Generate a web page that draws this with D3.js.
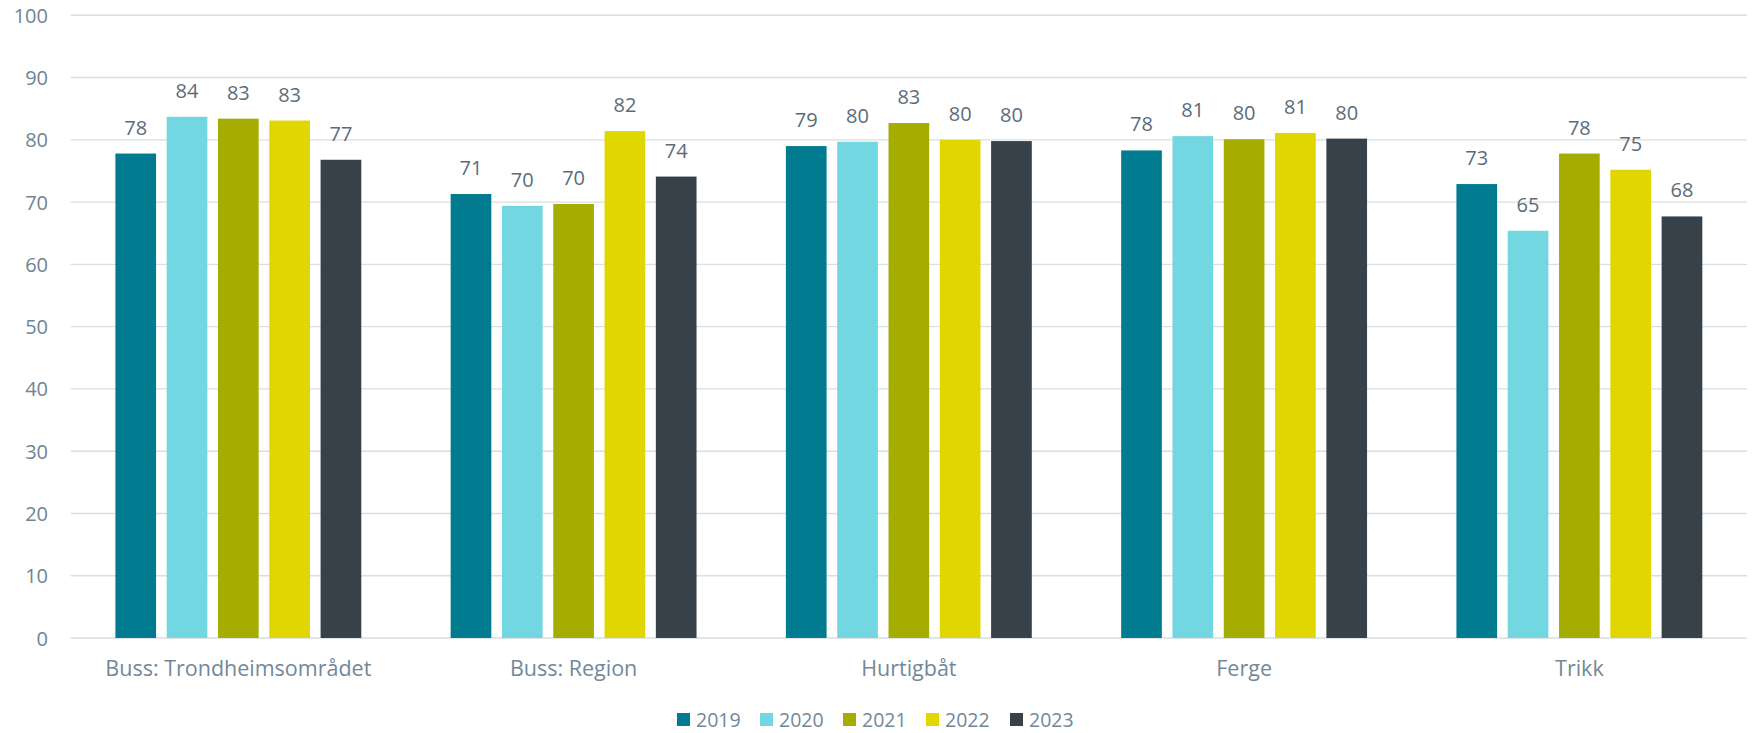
<!DOCTYPE html>
<html>
<head>
<meta charset="utf-8">
<script src="https://cdn.jsdelivr.net/npm/d3@7"></script>
<style>
  html, body { margin: 0; padding: 0; background: #fff; }
  svg text { font-family: "Open Sans", "Noto Sans", sans-serif; }
</style>
</head>
<body>
<svg id="chart" width="1752" height="733"></svg>
<script>
const categories = ["Buss: Trondheimsområdet", "Buss: Region", "Hurtigbåt", "Ferge", "Trikk"];
const years = ["2019", "2020", "2021", "2022", "2023"];
const v2019 = [77.8, 71.3, 79.0, 78.3, 72.9];
const v2020 = [83.7, 69.4, 79.7, 80.6, 65.4];
const v2021 = [83.4, 69.7, 82.7, 80.1, 77.8];
const v2022 = [83.1, 81.4, 80.0, 81.1, 75.2];
const v2023 = [76.8, 74.1, 79.8, 80.2, 67.7];
const labels2019 = ["78", "71", "79", "78", "73"];
const labels2020 = ["84", "70", "80", "81", "65"];
const labels2021 = ["83", "70", "83", "80", "78"];
const labels2022 = ["83", "82", "80", "81", "75"];
const labels2023 = ["77", "74", "80", "80", "68"];
const yTicks = [0, 10, 20, 30, 40, 50, 60, 70, 80, 90, 100];
const colors = ["#007B8F", "#72D7E0", "#A5AE00", "#E1D700", "#36414A"];

const seriesValues = [v2019, v2020, v2021, v2022, v2023];
const seriesLabels = [labels2019, labels2020, labels2021, labels2022, labels2023];

const svg = d3.select("#chart");
const mLeft = 70.7, mRight = 1747, mTop = 15.3, mBottom = 638;

const y = d3.scaleLinear().domain([0, 100]).range([mBottom, mTop]);
const x0 = d3.scaleBand().domain(categories).range([mLeft, mRight]).padding(0);
const x1 = d3.scaleBand().domain(years).range([0, x0.bandwidth()])
  .paddingInner(0.207).paddingOuter(0.871);

// gridlines
svg.append("g").selectAll("line").data(yTicks).join("line")
  .attr("x1", mLeft).attr("x2", mRight)
  .attr("y1", d => y(d)).attr("y2", d => y(d))
  .attr("stroke", "#D9DEE2").attr("stroke-width", 1.4);

// y axis labels
const yAxis = d3.axisLeft(y).tickValues(yTicks).tickSize(0).tickPadding(0);
const gy = svg.append("g").attr("transform", "translate(48,0)").call(yAxis);
gy.select(".domain").remove();
gy.selectAll("text").attr("font-size", 20).attr("fill", "#6F8494")
  .attr("font-family", "Open Sans, sans-serif").attr("dy", "0.35em");

// bars
const groups = svg.append("g").selectAll("g").data(categories).join("g")
  .attr("transform", d => `translate(${x0(d)},0)`);

groups.each(function(cat, ci) {
  const g = d3.select(this);
  years.forEach((yr, si) => {
    const val = seriesValues[si][ci];
    g.append("rect")
      .attr("x", x1(yr)).attr("width", x1.bandwidth())
      .attr("y", y(val)).attr("height", y(0) - y(val))
      .attr("fill", colors[si]);
    g.append("text")
      .attr("x", x1(yr) + x1.bandwidth() / 2)
      .attr("y", y(val) - 19)
      .attr("text-anchor", "middle")
      .attr("font-size", 20)
      .attr("fill", "#5B6C7B")
      .text(seriesLabels[si][ci]);
  });
});

// x axis labels
const xAxis = d3.axisBottom(x0).tickSize(0).tickPadding(0);
const gx = svg.append("g").attr("transform", `translate(0,${mBottom})`).call(xAxis);
gx.select(".domain").remove();
gx.selectAll("text").attr("font-size", 21.5).attr("fill", "#72889A")
  .attr("font-family", "Open Sans, sans-serif")
  .attr("dy", "0").attr("y", 38);

// legend
const legendX = [677, 760, 843, 926, 1010];
const lg = svg.append("g").selectAll("g").data(years).join("g")
  .attr("transform", (d, i) => `translate(${legendX[i]},713)`);
lg.append("rect").attr("width", 13).attr("height", 13).attr("fill", (d, i) => colors[i]);
lg.append("text").attr("x", 19).attr("y", 13.5).attr("font-size", 19.5)
  .attr("fill", "#72889A").text(d => d);
</script>
</body>
</html>
